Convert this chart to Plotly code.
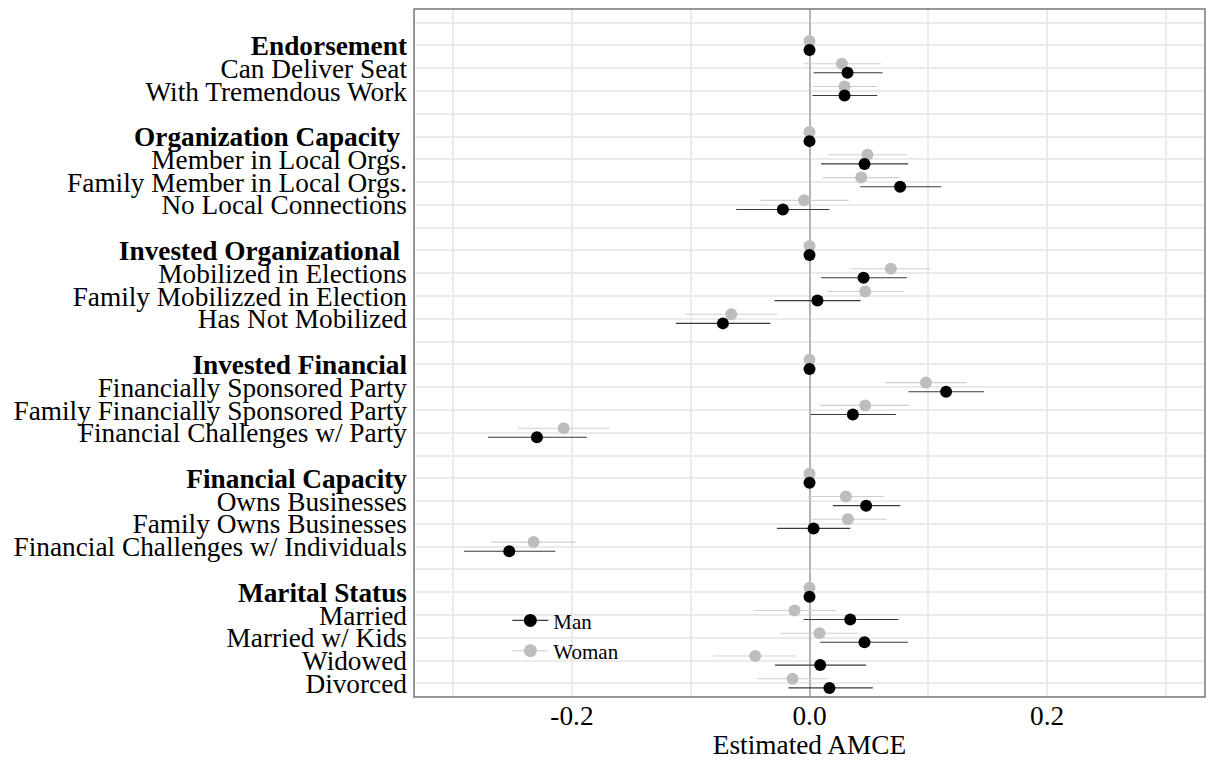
import plotly.graph_objects as go

# Category levels, top to bottom ("" = spacer row)
levels = [
    "", "Endorsement", "Can Deliver Seat", "With Tremendous Work",
    "", "Organization Capacity ", "Member in Local Orgs.", "Family Member in Local Orgs.", "No Local Connections",
    "", "Invested Organizational ", "Mobilized in Elections", "Family Mobilizzed in Election", "Has Not Mobilized",
    "", "Invested Financial", "Financially Sponsored Party", "Family Financially Sponsored Party", "Financial Challenges w/ Party",
    "", "Financial Capacity", "Owns Businesses", "Family Owns Businesses", "Financial Challenges w/ Individuals",
    "", "Marital Status", "Married", "Married w/ Kids", "Widowed", "Divorced",
]
headers = ["Endorsement", "Organization Capacity ", "Invested Organizational ",
           "Invested Financial", "Financial Capacity", "Marital Status"]

# Estimates (None for spacer rows)
man_est = [None, 0, 0.032, 0.0295,
           None, 0, 0.0463, 0.0763, -0.0224,
           None, 0, 0.0455, 0.0067, -0.0729,
           None, 0, 0.115, 0.0365, -0.2295,
           None, 0, 0.0477, 0.0034, -0.2528,
           None, 0, 0.0343, 0.0463, 0.009, 0.0168]
man_lo = [None, 0, 0.0034, 0.0025,
          None, 0, 0.0098, 0.0427, -0.0617,
          None, 0, 0.0098, -0.0295, -0.1125,
          None, 0, 0.0833, 0.001, -0.2707,
          None, 0, 0.0197, -0.0274, -0.291,
          None, 0, -0.005, 0.009, -0.029, -0.0177]
man_hi = [None, 0, 0.0615, 0.057,
          None, 0, 0.083, 0.111, 0.0168,
          None, 0, 0.082, 0.043, -0.033,
          None, 0, 0.147, 0.0727, -0.1874,
          None, 0, 0.0763, 0.0343, -0.214,
          None, 0, 0.075, 0.0828, 0.0477, 0.0533]

woman_est = [None, 0, 0.0273, 0.0295,
             None, 0, 0.0488, 0.0435, -0.0045,
             None, 0, 0.0685, 0.0469, -0.0659,
             None, 0, 0.098, 0.0469, -0.207,
             None, 0, 0.0306, 0.0323, -0.2323,
             None, 0, -0.0126, 0.0084, -0.0457, -0.0143]
woman_lo = [None, 0, -0.005, 0.003,
            None, 0, 0.0155, 0.011, -0.0415,
            None, 0, 0.035, 0.015, -0.1046,
            None, 0, 0.0637, 0.009, -0.2455,
            None, 0, -0.0013, 0.0006, -0.268,
            None, 0, -0.047, -0.0247, -0.081, -0.0443]
woman_hi = [None, 0, 0.060, 0.057,
            None, 0, 0.082, 0.076, 0.033,
            None, 0, 0.1016, 0.079, -0.027,
            None, 0, 0.1325, 0.084, -0.1686,
            None, 0, 0.063, 0.065, -0.1964,
            None, 0, 0.0225, 0.041, -0.0112, 0.016]

x_ticks = [-0.3, -0.2, -0.1, 0.0, 0.1, 0.2, 0.3]
x_ticktext = ["", "-0.2", "", "0.0", "", "0.2", ""]

FONT = "Liberation Serif, Times New Roman, serif"
GREY = "#bdbdbd"
FS = 27.3

rows = list(range(len(levels)))
DODGE = 0.2


def err(est, lo, hi):
    plus = [None if e is None else h - e for e, h in zip(est, hi)]
    minus = [None if e is None else e - l for e, l in zip(est, lo)]
    return plus, minus


fig = go.Figure()

wp, wm = err(woman_est, woman_lo, woman_hi)
fig.add_trace(go.Scatter(
    x=woman_est, y=[r - DODGE for r in rows], mode="markers",
    marker=dict(color=GREY, size=12),
    error_x=dict(type="data", array=wp, arrayminus=wm, symmetric=False,
                 color="#cfcfcf", thickness=1.1, width=0),
    showlegend=False, name="Woman", cliponaxis=False))

mp, mm = err(man_est, man_lo, man_hi)
fig.add_trace(go.Scatter(
    x=man_est, y=[r + DODGE for r in rows], mode="markers",
    marker=dict(color="black", size=12),
    error_x=dict(type="data", array=mp, arrayminus=mm, symmetric=False,
                 color="#3a3a3a", thickness=1.1, width=0),
    showlegend=False, name="Man", cliponaxis=False))

# Legend entries
fig.add_trace(go.Scatter(x=[None], y=[None], mode="lines+markers", name="Man",
                         marker=dict(color="black", size=13),
                         line=dict(color="#3a3a3a", width=1.1)))
fig.add_trace(go.Scatter(x=[None], y=[None], mode="lines+markers", name="Woman",
                         marker=dict(color=GREY, size=13),
                         line=dict(color="#cfcfcf", width=1.1)))

ticktext = [("<b>%s</b>" % t.replace(" ", "\u00a0") if t in headers else t) for t in levels]

fig.update_layout(
    width=1208, height=760,
    margin=dict(l=414, r=3, t=9, b=63),
    paper_bgcolor="white", plot_bgcolor="white",
    font=dict(family=FONT, color="black", size=FS),
    showlegend=True,
    legend=dict(x=0.118, y=0.089, xanchor="left", yanchor="middle",
                bgcolor="rgba(255,255,255,0)", itemwidth=36,
                font=dict(family=FONT, size=21, color="black"),
                borderwidth=0, traceorder="normal"),
    xaxis=dict(range=[-0.333, 0.333], tickvals=x_ticks, ticktext=x_ticktext,
               showgrid=True, gridcolor="#ebebeb", gridwidth=2,
               zeroline=True, zerolinecolor="#b5b5b5", zerolinewidth=2,
               showline=False, ticks="",
               tickfont=dict(family=FONT, size=FS, color="black"),
               title=dict(text="Estimated AMCE", font=dict(family=FONT, size=FS, color="black"),
                          standoff=6)),
    yaxis=dict(range=[len(levels) - 0.4, -0.6], tickvals=rows, ticktext=ticktext,
               showgrid=True, gridcolor="#ebebeb", gridwidth=2,
               zeroline=False, showline=False, ticks="",
               ticklabelstandoff=6,
               tickfont=dict(family=FONT, size=FS, color="black")),
    shapes=[
        # legend background box (covers grid, below marks)
        dict(type="rect", xref="paper", yref="paper", x0=0.1125, x1=0.287, y0=0.029, y1=0.170,
             line=dict(width=0), fillcolor="white", layer="between"),
        # panel border
        dict(type="rect", xref="paper", yref="paper", x0=0, x1=1, y0=0, y1=1,
             line=dict(color="#777777", width=1.5), layer="above"),
    ],
)

fig.write_html("out.html")
